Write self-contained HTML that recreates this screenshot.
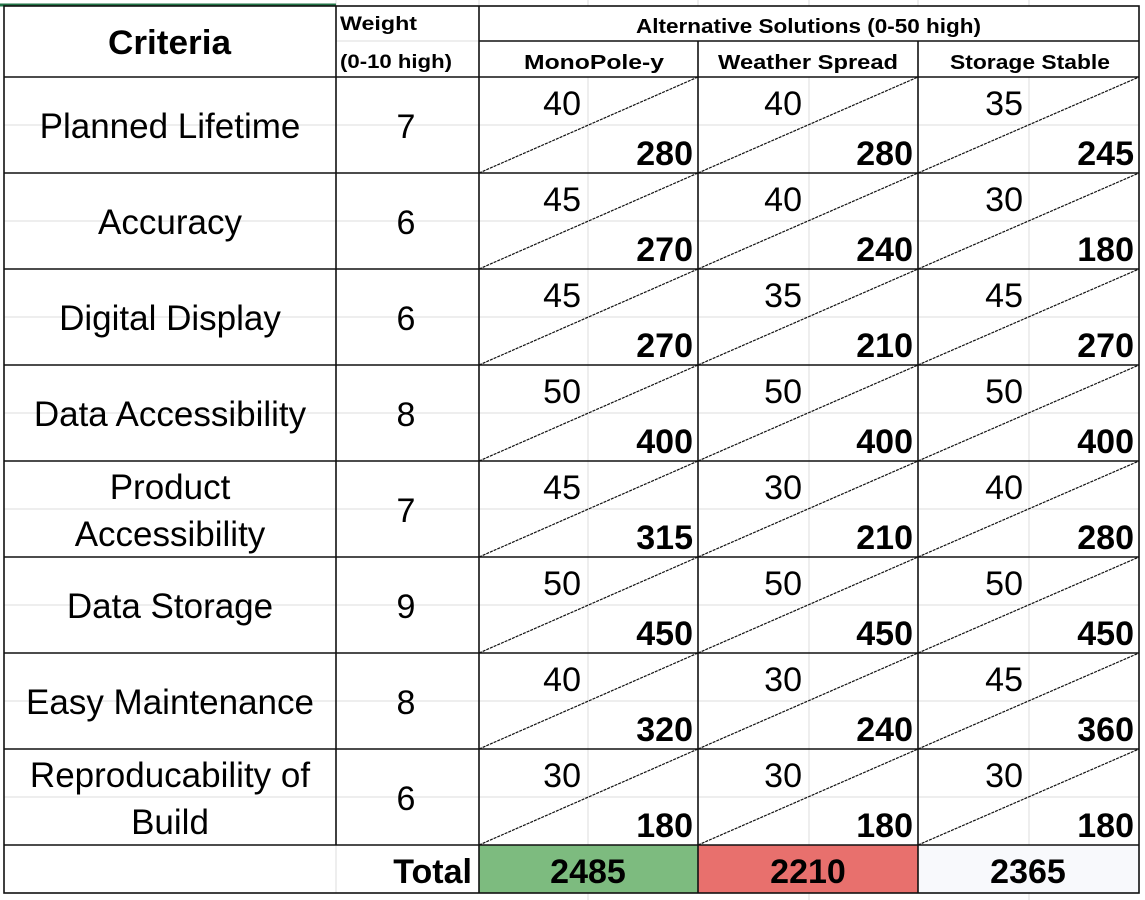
<!DOCTYPE html>
<html><head><meta charset="utf-8"><style>
html,body{margin:0;padding:0;background:#fff;width:1145px;height:900px;overflow:hidden}
svg{display:block;font-family:"Liberation Sans",Arial,sans-serif}
</style></head><body>
<svg width="1145" height="900" viewBox="0 0 1145 900" xmlns="http://www.w3.org/2000/svg">
<rect x="0" y="0" width="1145" height="900" fill="#fff"/>
<g stroke="#dcdcdc" stroke-width="1">
<line x1="336" y1="0" x2="336" y2="6"/><line x1="479" y1="0" x2="479" y2="6"/>
<line x1="588" y1="0" x2="588" y2="6"/><line x1="698" y1="0" x2="698" y2="6"/>
<line x1="809" y1="0" x2="809" y2="6"/><line x1="918" y1="0" x2="918" y2="6"/>
<line x1="1029" y1="0" x2="1029" y2="6"/>
<line x1="336" y1="41" x2="479" y2="41"/>
<line x1="588" y1="77" x2="588" y2="900"/><line x1="809" y1="77" x2="809" y2="900"/><line x1="1029" y1="77" x2="1029" y2="900"/>
<line x1="4" y1="125" x2="1139" y2="125"/><line x1="4" y1="221" x2="1139" y2="221"/>
<line x1="4" y1="317" x2="1139" y2="317"/><line x1="4" y1="413" x2="1139" y2="413"/>
<line x1="4" y1="509" x2="1139" y2="509"/><line x1="4" y1="605" x2="1139" y2="605"/>
<line x1="4" y1="701" x2="1139" y2="701"/><line x1="4" y1="797" x2="1139" y2="797"/>
</g>
<rect x="479" y="845" width="219" height="48" fill="#7dbb7f"/>
<rect x="698" y="845" width="220" height="48" fill="#e8706d"/>
<rect x="918" y="845" width="221" height="48" fill="#f8f9fc"/>
<g stroke="#dcdcdc"><line x1="336" y1="845" x2="336" y2="893"/></g>
<line x1="0" y1="5" x2="336" y2="5" stroke="#217346" stroke-width="3"/>
<g stroke="#111" stroke-width="1.2" stroke-dasharray="3,1">
<path d="M479 173L698 77M698 173L918 77M918 173L1139 77
M479 269L698 173M698 269L918 173M918 269L1139 173
M479 365L698 269M698 365L918 269M918 365L1139 269
M479 461L698 365M698 461L918 365M918 461L1139 365
M479 557L698 461M698 557L918 461M918 557L1139 461
M479 653L698 557M698 653L918 557M918 653L1139 557
M479 749L698 653M698 749L918 653M918 749L1139 653
M479 845L698 749M698 845L918 749M918 845L1139 749" fill="none"/>
</g>
<g stroke="#111" stroke-width="1.6" fill="none">
<rect x="4" y="6" width="1135" height="887"/>
<line x1="479" y1="41" x2="1139" y2="41"/>
<line x1="4" y1="77" x2="1139" y2="77"/><line x1="4" y1="173" x2="1139" y2="173"/>
<line x1="4" y1="269" x2="1139" y2="269"/><line x1="4" y1="365" x2="1139" y2="365"/>
<line x1="4" y1="461" x2="1139" y2="461"/><line x1="4" y1="557" x2="1139" y2="557"/>
<line x1="4" y1="653" x2="1139" y2="653"/><line x1="4" y1="749" x2="1139" y2="749"/>
<line x1="4" y1="845" x2="1139" y2="845"/>
<line x1="336" y1="6" x2="336" y2="845"/><line x1="479" y1="6" x2="479" y2="893"/>
<line x1="698" y1="41" x2="698" y2="893"/><line x1="918" y1="41" x2="918" y2="893"/>
</g>
<g fill="#000" font-weight="bold">
<text x="108" y="54" font-size="34" textLength="123" lengthAdjust="spacingAndGlyphs">Criteria</text>
<text x="340" y="30" font-size="19" textLength="77" lengthAdjust="spacingAndGlyphs">Weight</text>
<text x="340" y="68" font-size="19" textLength="112" lengthAdjust="spacingAndGlyphs">(0-10 high)</text>
<text x="636" y="33" font-size="20" textLength="345" lengthAdjust="spacingAndGlyphs">Alternative Solutions (0-50 high)</text>
<text x="524" y="69" font-size="20" textLength="140" lengthAdjust="spacingAndGlyphs">MonoPole-y</text>
<text x="718" y="69" font-size="20" textLength="180" lengthAdjust="spacingAndGlyphs">Weather Spread</text>
<text x="950" y="69" font-size="20" textLength="160" lengthAdjust="spacingAndGlyphs">Storage Stable</text>
</g>
<g fill="#000" font-size="35" text-anchor="middle">
<text x="170" y="138">Planned Lifetime</text>
<text x="170" y="234">Accuracy</text>
<text x="170" y="330">Digital Display</text>
<text x="170" y="426">Data Accessibility</text>
<text x="170" y="499">Product</text>
<text x="170" y="546">Accessibility</text>
<text x="170" y="618">Data Storage</text>
<text x="170" y="714">Easy Maintenance</text>
<text x="170" y="787">Reproducability of</text>
<text x="170" y="834">Build</text>
</g>
<g fill="#000" font-size="34" text-anchor="middle">
<text x="406" y="138">7</text><text x="406" y="234">6</text><text x="406" y="330">6</text>
<text x="406" y="426">8</text><text x="406" y="522">7</text><text x="406" y="618">9</text>
<text x="406" y="714">8</text><text x="406" y="810">6</text>
</g>
<g fill="#000" font-size="34" text-anchor="end">
<text x="581" y="115">40</text><text x="802" y="115">40</text><text x="1023" y="115">35</text>
<text x="581" y="211">45</text><text x="802" y="211">40</text><text x="1023" y="211">30</text>
<text x="581" y="307">45</text><text x="802" y="307">35</text><text x="1023" y="307">45</text>
<text x="581" y="403">50</text><text x="802" y="403">50</text><text x="1023" y="403">50</text>
<text x="581" y="499">45</text><text x="802" y="499">30</text><text x="1023" y="499">40</text>
<text x="581" y="595">50</text><text x="802" y="595">50</text><text x="1023" y="595">50</text>
<text x="581" y="691">40</text><text x="802" y="691">30</text><text x="1023" y="691">45</text>
<text x="581" y="787">30</text><text x="802" y="787">30</text><text x="1023" y="787">30</text>
</g>
<g fill="#000" font-size="34" font-weight="bold" text-anchor="end">
<text x="693" y="165">280</text><text x="913" y="165">280</text><text x="1134" y="165">245</text>
<text x="693" y="261">270</text><text x="913" y="261">240</text><text x="1134" y="261">180</text>
<text x="693" y="357">270</text><text x="913" y="357">210</text><text x="1134" y="357">270</text>
<text x="693" y="453">400</text><text x="913" y="453">400</text><text x="1134" y="453">400</text>
<text x="693" y="549">315</text><text x="913" y="549">210</text><text x="1134" y="549">280</text>
<text x="693" y="645">450</text><text x="913" y="645">450</text><text x="1134" y="645">450</text>
<text x="693" y="741">320</text><text x="913" y="741">240</text><text x="1134" y="741">360</text>
<text x="693" y="837">180</text><text x="913" y="837">180</text><text x="1134" y="837">180</text>
</g>
<g fill="#000" font-size="34" font-weight="bold">
<text x="472" y="883" text-anchor="end">Total</text>
<text x="588" y="883" text-anchor="middle">2485</text>
<text x="808" y="883" text-anchor="middle">2210</text>
<text x="1028" y="883" text-anchor="middle">2365</text>
</g>
</svg>
</body></html>
